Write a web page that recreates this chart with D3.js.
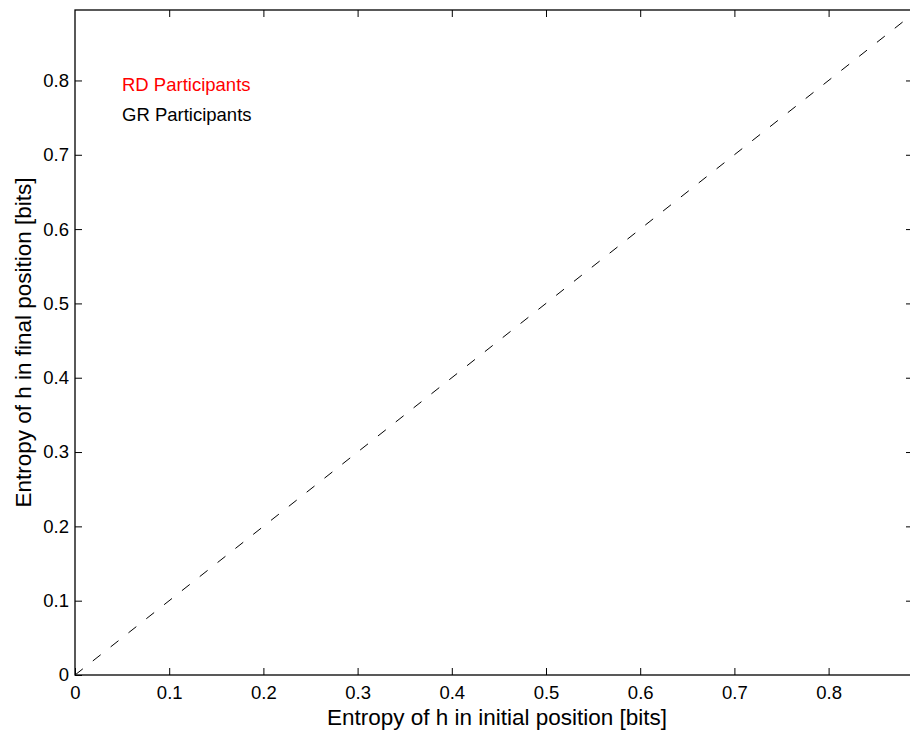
<!DOCTYPE html>
<html>
<head>
<meta charset="utf-8">
<script src="https://cdn.jsdelivr.net/npm/d3@7"></script>
<style>
  html, body { margin: 0; padding: 0; background: #fff; }
  svg { display: block; font-family: "Liberation Sans", Arial, Helvetica, sans-serif; }
</style>
</head>
<body>
<svg id="chart" width="910" height="735"></svg>
<script>
// ---- data ----
const xTicks = [0, 0.1, 0.2, 0.3, 0.4, 0.5, 0.6, 0.7, 0.8];
const yTicks = [0, 0.1, 0.2, 0.3, 0.4, 0.5, 0.6, 0.7, 0.8];
const xDomain = [0, 0.8896];
const yDomain = [0, 0.8948];
const diagonal = [[0, 0], [0.89, 0.89]];   // identity reference line y = x
const legendLabels = ["RD Participants", "GR Participants"];
const legendColors = ["#ff0000", "#000000"];
const xLabel = "Entropy of h in initial position [bits]";
const yLabel = "Entropy of h in final position [bits]";

// ---- layout ----
const m = { left: 75, top: 10, right: 913, bottom: 675 };
const svg = d3.select("#chart");

const x = d3.scaleLinear().domain(xDomain).range([m.left, m.right]);
const y = d3.scaleLinear().domain(yDomain).range([m.bottom, m.top]);
const fmt = d => d === 0 ? "0" : d3.format(".1f")(d);
const FONT = "Liberation Sans, Arial, sans-serif";

svg.append("defs").append("clipPath").attr("id", "plotclip")
  .append("rect").attr("x", m.left).attr("y", m.top)
  .attr("width", m.right - m.left).attr("height", m.bottom - m.top);

// diagonal dashed line
const line = d3.line().x(d => x(d[0])).y(d => y(d[1]));
svg.append("path").datum(diagonal)
  .attr("d", line)
  .attr("clip-path", "url(#plotclip)")
  .attr("fill", "none")
  .attr("stroke", "#000")
  .attr("stroke-width", 1)
  .attr("stroke-dasharray", "10,12.7");

// axes (ticks inward, box on all sides)
const tickLen = 7;
function styleAxis(g) {
  g.select(".domain").remove();
  g.selectAll(".tick line").attr("stroke", "#000").attr("stroke-width", 1);
}
// bottom
svg.append("g").attr("transform", `translate(0,${m.bottom})`)
  .call(d3.axisBottom(x).tickValues(xTicks).tickFormat(fmt).tickSizeInner(-tickLen).tickSizeOuter(0).tickPadding(11))
  .call(styleAxis)
  .call(g => g.selectAll("text").attr("font-size", 18.5).attr("fill", "#000").attr("font-family", FONT));
// top
svg.append("g").attr("transform", `translate(0,${m.top})`)
  .call(d3.axisTop(x).tickValues(xTicks.filter(d => d > 0)).tickFormat("").tickSizeInner(-tickLen).tickSizeOuter(0))
  .call(styleAxis);
// left
svg.append("g").attr("transform", `translate(${m.left},0)`)
  .call(d3.axisLeft(y).tickValues(yTicks).tickFormat(fmt).tickSizeInner(-tickLen).tickSizeOuter(0).tickPadding(6))
  .call(styleAxis)
  .call(g => g.selectAll("text").attr("font-size", 18.5).attr("fill", "#000").attr("font-family", FONT));
// right
svg.append("g").attr("transform", `translate(${m.right},0)`)
  .call(d3.axisRight(y).tickValues(yTicks.filter(d => d > 0)).tickFormat("").tickSizeInner(-tickLen).tickSizeOuter(0))
  .call(styleAxis);

// frame
svg.append("rect")
  .attr("x", m.left).attr("y", m.top)
  .attr("width", m.right - m.left).attr("height", m.bottom - m.top)
  .attr("fill", "none").attr("stroke", "#000").attr("stroke-width", 1.3);

// legend text
svg.append("g").selectAll("text").data(legendLabels).join("text")
  .attr("x", 122)
  .attr("y", (d, i) => 91 + i * 30)
  .attr("font-size", 18.5)
  .attr("font-family", FONT)
  .attr("fill", (d, i) => legendColors[i])
  .text(d => d);

// axis labels
svg.append("text")
  .attr("x", 497).attr("y", 725)
  .attr("text-anchor", "middle").attr("font-size", 22.5).attr("font-family", FONT).attr("fill", "#000")
  .text(xLabel);
svg.append("text")
  .attr("transform", `translate(31,${(m.top + m.bottom) / 2}) rotate(-90)`)
  .attr("text-anchor", "middle").attr("font-size", 22.5).attr("font-family", FONT).attr("fill", "#000")
  .text(yLabel);
</script>
</body>
</html>
